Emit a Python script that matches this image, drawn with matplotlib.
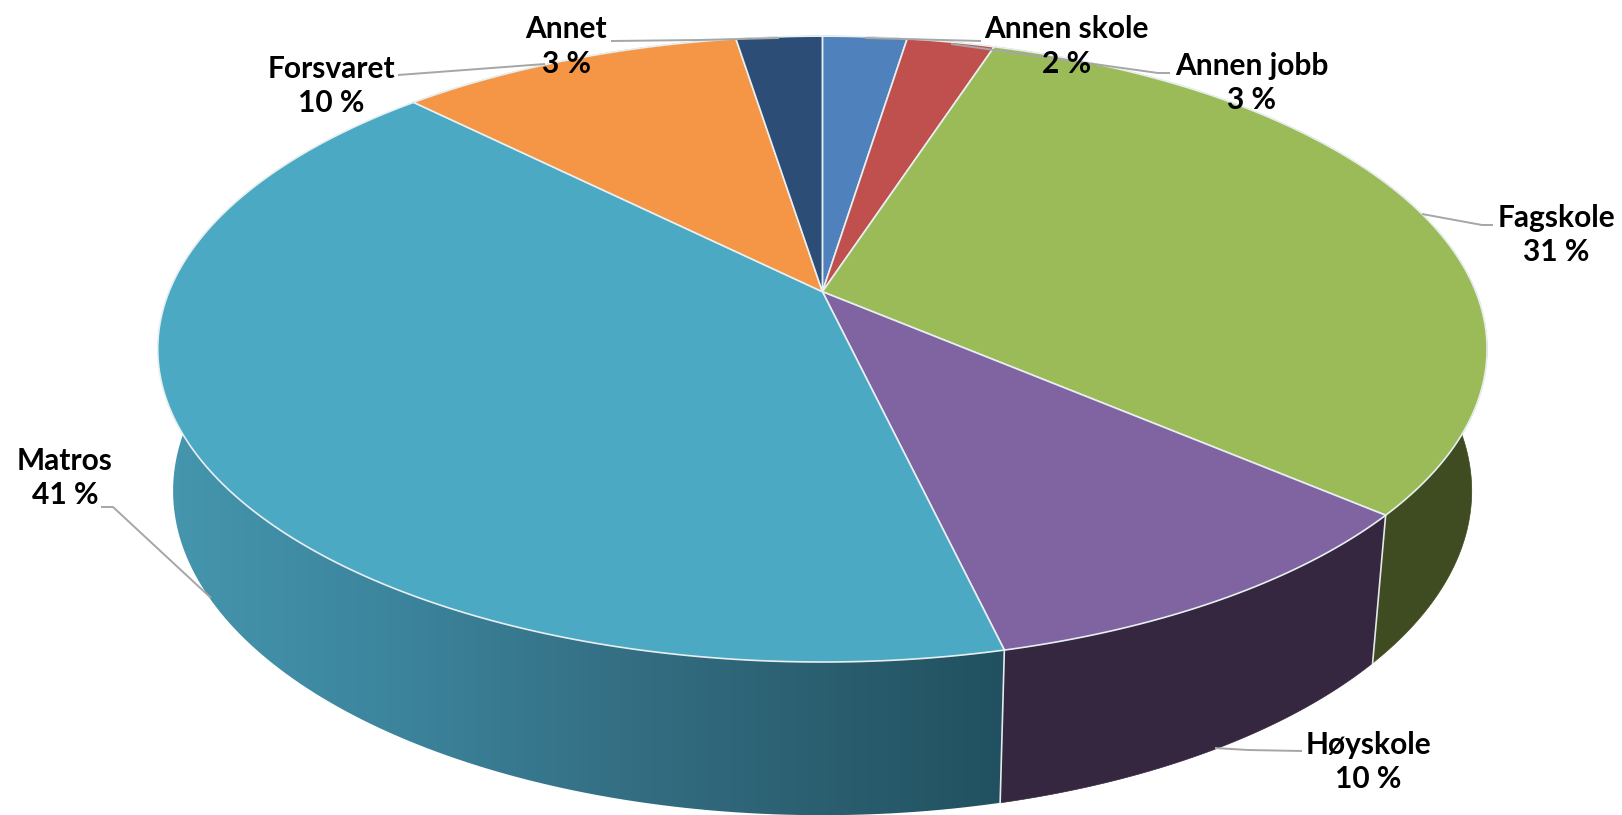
import numpy as np
import matplotlib
matplotlib.use("Agg")
import matplotlib.pyplot as plt
from matplotlib.patches import Polygon
from matplotlib.colors import LinearSegmentedColormap

# ---- data, clockwise from 12 o'clock ----
categories = ["Annen skole", "Annen jobb", "Fagskole", "Høyskole", "Matros", "Forsvaret", "Annet"]
shares = [2.45, 2.55, 31.3, 10.05, 41.2, 10.0, 2.5]
pct_labels = [2, 3, 31, 10, 41, 10, 3]

# ---- styles ----
top_colors = ["#4F81BD", "#C0504D", "#9BBB59", "#8064A2", "#4BA9C4", "#F49646", "#2C4D75"]
side_colors = ["#2F4D71", "#73302E", "#3F4B21", "#34273F", None, "#94592A", "#1A2E46"]
label_xy = [(1066.5, 46.5), (1251.5, 83), (1556, 235), (1368.5, 762), (65, 478), (331, 86), (566, 46.5)]
leaders = [
    [(981, 41), (865, 38)],
    [(1170, 73), (1158, 73), (951, 44)],
    [(1493, 225), (1482, 225), (1422, 214)],
    [(1302, 751), (1248, 750), (1215, 748)],
    [(101, 507), (113, 507), (211, 598)],
    [(398, 75), (545, 64)],
    [(611, 41), (700, 40), (779, 38)],
]
W, H = 1622, 815
CX, CY, A, B, K = 822.4, 291.7, 302.4, 653.4, 0.1834
CY2, A2, B2 = 431.4, 313.4, 638.3


def rim(theta, cy, a, b):
    s = -np.cos(theta)
    d = 1 - K * s
    return np.column_stack([CX + b * np.sin(theta) / d, cy + a * s / d])


fig = plt.figure(figsize=(W / 100, H / 100), dpi=100, facecolor="white")
ax = fig.add_axes([0, 0, 1, 1])
ax.set_axis_off()

edges = np.radians(np.concatenate([[0], np.cumsum(shares)]) / np.sum(shares) * 360)
teal_cmap = LinearSegmentedColormap.from_list(
    "teal", [(0, "#4596AE"), (0.28, "#3B849C"), (0.58, "#336C80"), (1, "#215160")])

for i, cat in enumerate(categories):
    t = np.linspace(edges[i], edges[i + 1], 160)
    top = rim(t, CY, A, B)
    bot = rim(t, CY2, A2, B2)
    side_poly = np.vstack([top, bot[::-1]])
    if side_colors[i] is None:
        p = Polygon(side_poly, closed=True, fc="none", ec="none", zorder=1)
        ax.add_patch(p)
        x0, x1 = 165, 1005
        im = ax.imshow(np.linspace(0, 1, 512)[None, :], cmap=teal_cmap, aspect="auto",
                       extent=(x0, x1, H, 0), zorder=1)
        im.set_clip_path(p)
    else:
        ax.add_patch(Polygon(side_poly, closed=True, fc=side_colors[i], ec=side_colors[i],
                             lw=0.5, zorder=1))

for i in range(len(categories)):
    a0 = rim(np.array([edges[i]]), CY, A, B)[0]
    b0 = rim(np.array([edges[i]]), CY2, A2, B2)[0]
    ax.plot([a0[0], b0[0]], [a0[1], b0[1]], color="#E4EAEC", lw=1.2, zorder=2)

for i, cat in enumerate(categories):
    t = np.linspace(edges[i], edges[i + 1], 200)
    poly = np.vstack([[CX, CY], rim(t, CY, A, B)])
    ax.add_patch(Polygon(poly, closed=True, fc=top_colors[i], ec="#E8EFF1", lw=1.2,
                         joinstyle="round", zorder=3))

for pts in leaders:
    xs, ys = zip(*pts)
    ax.plot(xs, ys, color="#A6A6A6", lw=1.4, zorder=4, solid_capstyle="butt")

for cat, pct, (x, y) in zip(categories, pct_labels, label_xy):
    ax.text(x, y, f"{cat}\n{pct} %", ha="center", va="center", family=["Lato", "DejaVu Sans"],
            weight="bold", fontsize=21.5, linespacing=1.3, color="#000000", zorder=5)

ax.set_xlim(0, W)
ax.set_ylim(H, 0)
fig.savefig("out.png", dpi=100, facecolor="white")
